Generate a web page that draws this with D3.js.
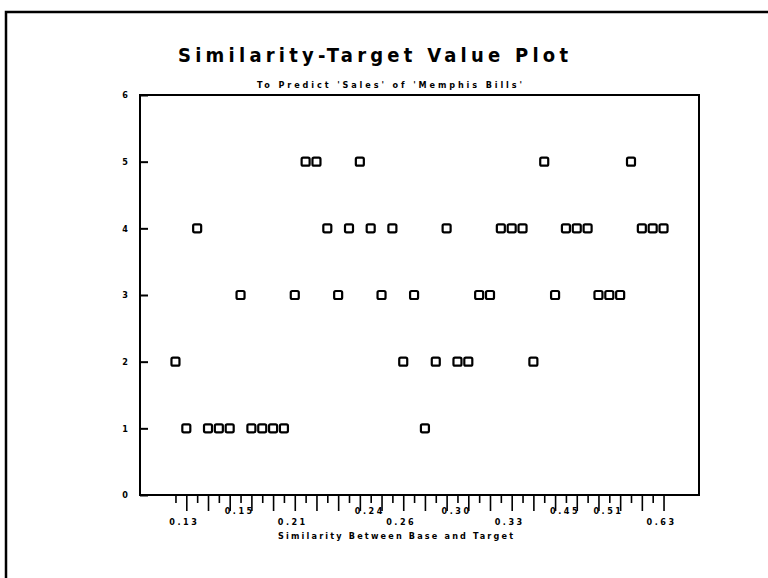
<!DOCTYPE html>
<html>
<head>
<meta charset="utf-8">
<script src="https://cdn.jsdelivr.net/npm/d3@7"></script>
<style>
  html, body { margin: 0; padding: 0; background: #fff; }
  svg text { font-family: "Liberation Sans Narrow", "DejaVu Sans Condensed", "Liberation Sans", sans-serif; fill: #000; }
</style>
</head>
<body>
<div id="chart"></div>
<script>
// target value of each case, sorted by similarity (one point per case)
const targetValues = [2, 1, 4, 1, 1, 1, 3, 1, 1, 1, 1, 3, 5, 5, 4, 3, 4, 5, 4, 3, 4, 2, 3, 1,
  2, 4, 2, 2, 3, 3, 4, 4, 4, 2, 5, 3, 4, 4, 4, 3, 3, 3, 5, 4, 4, 4];

// similarity labels shown under some of the cases
const xTickLabels = ['0.13', '0.15', '0.21', '0.24', '0.26', '0.30', '0.33', '0.45', '0.51', '0.63'];
const xTickCase = [1, 5, 11, 17, 21, 25, 31, 35, 39, 45];
const xTickRow = [1, 0, 1, 0, 1, 0, 1, 0, 0, 1];

const yTicks = [0, 1, 2, 3, 4, 5, 6];

const width = 768, height = 578;
const margin = { top: 95, right: 69, bottom: 83, left: 140 };

const svg = d3.select('#chart').append('svg')
  .attr('width', width)
  .attr('height', height);

// page frame (scanned sheet edge)
svg.append('path')
  .attr('d', `M6,${height} L6,12 L${width},12`)
  .attr('fill', 'none')
  .attr('stroke', '#000')
  .attr('stroke-width', 2.5);

const cases = targetValues.map((v, i) => ({ i, v }));

const x = d3.scalePoint()
  .domain(cases.map(d => d.i))
  .range([margin.left, width - margin.right])
  .padding(3.27);

const y = d3.scaleLinear()
  .domain([0, 6])
  .range([height - margin.bottom, margin.top]);

// plot box
svg.append('rect')
  .attr('x', margin.left)
  .attr('y', margin.top)
  .attr('width', width - margin.left - margin.right)
  .attr('height', height - margin.top - margin.bottom)
  .attr('fill', 'none')
  .attr('stroke', '#000')
  .attr('stroke-width', 2);

// y axis, ticks pointing inwards
const yAxis = svg.append('g')
  .attr('transform', `translate(${margin.left},0)`)
  .call(d3.axisRight(y).tickValues(yTicks).tickSize(8).tickFormat(d3.format('d')));
yAxis.select('.domain').remove();
yAxis.selectAll('.tick line').attr('stroke-width', 2);
yAxis.selectAll('.tick text')
  .attr('x', -15)
  .attr('text-anchor', 'middle')
  .style('font-size', '9px')
  .style('font-weight', 'bold');

// x axis: a tick per case, alternating short / long
const xAxis = svg.append('g')
  .attr('transform', `translate(0,${height - margin.bottom})`)
  .call(d3.axisBottom(x).tickSize(0).tickFormat(''));
xAxis.select('.domain').remove();
xAxis.selectAll('.tick line')
  .attr('y2', d => d % 2 ? 16 : 8)
  .attr('stroke-width', 1.6);

const labelG = svg.append('g')
  .attr('transform', `translate(0,${height - margin.bottom})`);
labelG.selectAll('text')
  .data(xTickLabels)
  .join('text')
  .attr('x', (d, k) => xTickRow[k] ? x(xTickCase[k]) - 2 : x(xTickCase[k]) + 10)
  .attr('y', (d, k) => xTickRow[k] ? 30 : 19)
  .attr('text-anchor', 'middle')
  .style('font-size', '9px')
  .style('font-weight', 'bold')
  .style('letter-spacing', '2.5px')
  .text(d => d);

// markers
svg.append('g')
  .selectAll('rect')
  .data(cases)
  .join('rect')
  .attr('x', d => x(d.i) - 4)
  .attr('y', d => y(d.v) - 4)
  .attr('width', 8)
  .attr('height', 8)
  .attr('rx', 1.5)
  .attr('fill', '#fff')
  .attr('stroke', '#000')
  .attr('stroke-width', 2.2);

// titles
svg.append('text')
  .attr('x', 178)
  .attr('y', 62)
  .attr('textLength', 390)
  .attr('lengthAdjust', 'spacing')
  .style('font-size', '20px')
  .style('font-weight', 'bold')
  .text('Similarity-Target Value Plot');

svg.append('text')
  .attr('x', 257)
  .attr('y', 88)
  .attr('textLength', 265)
  .attr('lengthAdjust', 'spacing')
  .style('font-size', '9px')
  .style('font-weight', 'bold')
  .text("To Predict 'Sales' of 'Memphis Bills'");

svg.append('text')
  .attr('x', 278)
  .attr('y', 539)
  .attr('textLength', 235)
  .attr('lengthAdjust', 'spacing')
  .style('font-size', '9px')
  .style('font-weight', 'bold')
  .text('Similarity Between Base and Target');
</script>
</body>
</html>
